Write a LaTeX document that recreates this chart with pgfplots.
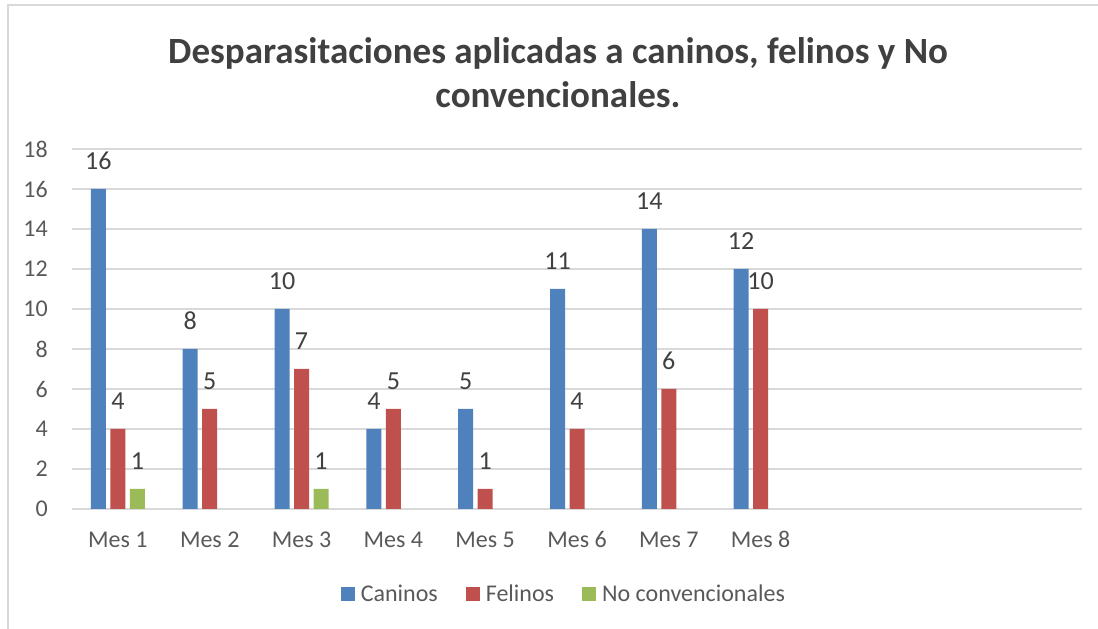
\documentclass[border=0pt]{standalone}
\usepackage{fontspec}
\setmainfont{Carlito}
\usepackage{pgfplots}
\pgfplotsset{compat=1.18}

\definecolor{cblue}{HTML}{4F81BD}
\definecolor{cred}{HTML}{C0504D}
\definecolor{cgreen}{HTML}{9BBB59}
\definecolor{gridgray}{HTML}{D9D9D9}
\definecolor{ticktext}{HTML}{595959}
\definecolor{labeltext}{HTML}{404040}

\begin{document}
\begin{tikzpicture}[x=1pt,y=1pt]
\useasboundingbox (0,0) rectangle (1098,629);
% chart frame (only top and left edges are visible)
\draw[gridgray, line width=1.5pt] (8,0) -- (8,624) -- (1098,624);
% title
\node[anchor=base, font=\fontsize{37}{44}\bfseries, text=labeltext] at (558,565)
  {Desparasitaciones aplicadas a caninos, felinos y No};
\node[anchor=base, font=\fontsize{37}{44}\bfseries, text=labeltext] at (558,521)
  {convencionales.};

\begin{axis}[
  at={(72pt,120pt)}, anchor=south west,
  scale only axis, width=1010pt, height=360pt,
  ybar, bar width=15pt,
  xmin=-0.5, xmax=10.5, ymin=0, ymax=18,
  xtick={0,...,7},
  xticklabels={Mes 1,Mes 2,Mes 3,Mes 4,Mes 5,Mes 6,Mes 7,Mes 8},
  ytick={0,2,...,18},
  ymajorgrids,
  grid style={draw=gridgray, line width=1.4pt},
  axis line style={draw=none},
  major tick length=0pt,
  /pgf/number format/assume math mode=true,
  ticklabel style={font=\fontsize{24}{28}\selectfont, text=ticktext},
  yticklabel style={anchor=east, inner sep=0pt, xshift=-24pt, text=ticktext},
  xticklabel style={anchor=base, inner sep=0pt, yshift=-39pt, text=ticktext},
  nodes near coords,
  nodes near coords style={font=\fontsize{26}{31}\selectfont, text=labeltext,
    anchor=base, inner sep=0pt, yshift=19pt},
  legend style={at={(0.487,-0.236)}, anchor=center, draw=none, fill=none,
    font=\fontsize{24}{28}\selectfont, text=ticktext, legend columns=3,
    /tikz/every odd column/.append style={column sep=4pt},
    /tikz/every even column/.append style={column sep=26pt}},
  legend image code/.code={\fill[#1] (0pt,-7pt) rectangle (14pt,7pt);},
]
\addplot[fill=cblue, draw=none, bar shift=-19.5pt]
  coordinates {(0,16)(1,8)(2,10)(3,4)(4,5)(5,11)(6,14)(7,12)};
\addplot[fill=cred, draw=none, bar shift=0pt]
  coordinates {(0,4)(1,5)(2,7)(3,5)(4,1)(5,4)(6,6)(7,10)};
\addplot[fill=cgreen, draw=none, bar shift=19.5pt]
  coordinates {(0,1)(2,1)};
\legend{Caninos,Felinos,No convencionales}
\end{axis}
\end{tikzpicture}
\end{document}
